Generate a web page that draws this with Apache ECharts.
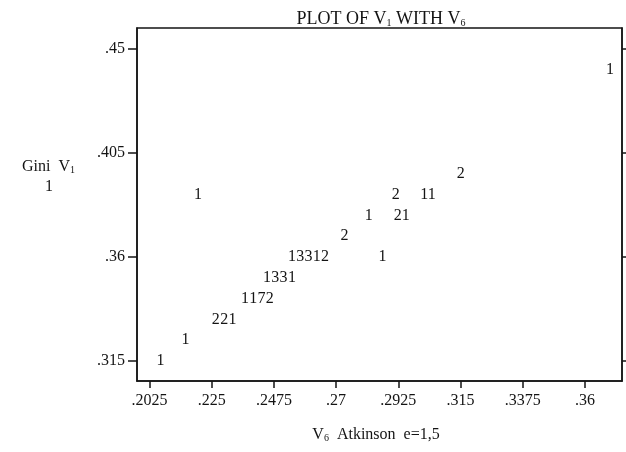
<!DOCTYPE html>
<html><head><meta charset="utf-8">
<script src="https://cdn.jsdelivr.net/npm/echarts@6/dist/echarts.min.js"></script>
<style>html,body{margin:0;padding:0;background:#fff}#c{width:626px;height:452px}</style>
</head><body><div id="c"></div>
<script>
// V6 (Atkinson e=1,5) position of each printed count character
const v6 = [0.2065, 0.2155,
  0.2265, 0.2295, 0.2325,
  0.2370, 0.2400, 0.2430, 0.2460,
  0.2450, 0.2480, 0.2510, 0.2540,
  0.2540, 0.2570, 0.2600, 0.2630, 0.2660, 0.2868,
  0.2730,
  0.2818, 0.2923, 0.2952,
  0.2200, 0.2916, 0.3019, 0.3046,
  0.3151,
  0.3691];
// V1 (Gini) row of each character
const v1 = [0.315, 0.324,
  0.333, 0.333, 0.333,
  0.342, 0.342, 0.342, 0.342,
  0.351, 0.351, 0.351, 0.351,
  0.360, 0.360, 0.360, 0.360, 0.360, 0.360,
  0.369,
  0.378, 0.378, 0.378,
  0.387, 0.387, 0.387, 0.387,
  0.396,
  0.441];
// number of cases printed at each position
const counts = [1, 1,
  2, 2, 1,
  1, 1, 7, 2,
  1, 3, 3, 1,
  1, 3, 3, 1, 2, 1,
  2,
  1, 2, 1,
  1, 2, 1, 1,
  2,
  1];
const xTickValues = [0.2025, 0.225, 0.2475, 0.27, 0.2925, 0.315, 0.3375, 0.36];
const xTickLabels = ['.2025', '.225', '.2475', '.27', '.2925', '.315', '.3375', '.36'];
const yTickValues = [0.315, 0.36, 0.405, 0.45];
const yTickLabels = ['.315', '.36', '.405', '.45'];

const INK = '#141414';
const FONT = 'Liberation Serif';
function lab(values, labels) {
  return function (v) {
    const i = values.findIndex(t => Math.abs(t - v) < 1e-7);
    return i >= 0 ? labels[i] : '';
  };
}
const points = v6.map((x, i) => [x, v1[i], counts[i]]);
const rich = {
  a: {fontFamily: FONT, fontSize: 16, fill: INK, lineHeight: 20, verticalAlign: 'bottom'},
  s: {fontFamily: FONT, fontSize: 10, fill: INK, lineHeight: 11, verticalAlign: 'bottom'}
};
const richT = {
  a: {fontFamily: FONT, fontSize: 18, fill: INK, lineHeight: 22, verticalAlign: 'bottom'},
  s: {fontFamily: FONT, fontSize: 10, fill: INK, lineHeight: 11, verticalAlign: 'bottom'}
};

const chart = echarts.init(document.getElementById('c'));
chart.setOption({
  animation: false,
  backgroundColor: '#ffffff',
  grid: {left: 137, right: 4, top: 28, bottom: 71, show: true, borderColor: INK, borderWidth: 1.5,
    backgroundColor: 'transparent', containLabel: false, outerBoundsMode: 'none'},
  xAxis: {
    type: 'value', min: 0.19798, max: 0.3734,
    axisLine: {show: true, lineStyle: {color: INK, width: 1.5}},
    axisTick: {show: true, inside: false, length: 7, customValues: xTickValues, lineStyle: {color: INK, width: 1.5}},
    axisLabel: {show: true, customValues: xTickValues, formatter: lab(xTickValues, xTickLabels),
      margin: 12, color: INK, fontFamily: FONT, fontSize: 16},
    splitLine: {show: false}
  },
  yAxis: [{
    type: 'value', min: 0.3063, max: 0.4591, position: 'left',
    axisLine: {show: true, lineStyle: {color: INK, width: 1.5}},
    axisTick: {show: true, inside: false, length: 9, customValues: yTickValues, lineStyle: {color: INK, width: 1.5}},
    axisLabel: {show: true, customValues: yTickValues, formatter: lab(yTickValues, yTickLabels),
      margin: 12, color: INK, fontFamily: FONT, fontSize: 16},
    splitLine: {show: false}
  }, {
    type: 'value', min: 0.3063, max: 0.4591, position: 'right',
    axisLine: {show: true, lineStyle: {color: INK, width: 1.5}},
    axisTick: {show: true, inside: false, length: 6, customValues: yTickValues, lineStyle: {color: INK, width: 1.5}},
    axisLabel: {show: false},
    splitLine: {show: false}
  }],
  series: [{
    type: 'scatter',
    data: points,
    symbol: 'circle',
    symbolSize: 1,
    itemStyle: {color: 'rgba(0,0,0,0)', opacity: 1},
    label: {show: true, position: 'inside', formatter: p => String(p.value[2]),
      color: INK, opacity: 1, textBorderWidth: 0, fontFamily: FONT, fontSize: 16},
    labelLayout: {hideOverlap: false},
    emphasis: {disabled: true}
  }],
  graphic: [
    {type: 'text', x: 381, y: 17, style: {text: '{a|PLOT OF V}{s|1}{a| WITH V}{s|6}', rich: richT,
      align: 'center', verticalAlign: 'middle'}},
    {type: 'text', x: 376, y: 433, style: {text: '{a|V}{s|6}{a|  Atkinson  e=1,5}', rich: rich,
      align: 'center', verticalAlign: 'middle'}},
    {type: 'text', x: 22, y: 165, style: {text: '{a|Gini  V}{s|1}', rich: rich,
      align: 'left', verticalAlign: 'middle'}},
    {type: 'text', x: 49, y: 187, style: {text: '1', fill: INK, fontFamily: FONT, fontSize: 16,
      align: 'center', verticalAlign: 'middle'}}
  ]
});
</script></body></html>
